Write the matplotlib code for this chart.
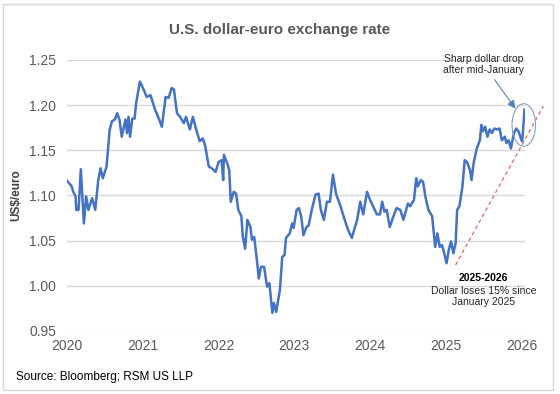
import matplotlib.pyplot as plt
from matplotlib.patches import Ellipse, Rectangle

plt.rcParams['font.family'] = ['Liberation Sans', 'DejaVu Sans']

# decimal year, US$ per euro
dates = [2020.00, 2020.06, 2020.08, 2020.11, 2020.12, 2020.15, 2020.18, 2020.22, 2020.25, 2020.28,
         2020.33, 2020.37, 2020.41, 2020.44, 2020.47, 2020.52, 2020.56, 2020.59, 2020.63, 2020.66,
         2020.69, 2020.72, 2020.77, 2020.79, 2020.81, 2020.83, 2020.86, 2020.89, 2020.91, 2020.96,
         2021.01, 2021.05, 2021.10, 2021.16, 2021.21, 2021.25, 2021.30, 2021.34, 2021.38, 2021.41,
         2021.45, 2021.49, 2021.54, 2021.57, 2021.62, 2021.66, 2021.70, 2021.75, 2021.79, 2021.82,
         2021.87, 2021.91, 2021.96, 2022.00, 2022.04, 2022.06, 2022.07, 2022.12, 2022.14, 2022.16,
         2022.20, 2022.23, 2022.26, 2022.30, 2022.32, 2022.35, 2022.38, 2022.42, 2022.44, 2022.47,
         2022.51, 2022.53, 2022.56, 2022.60, 2022.64, 2022.67, 2022.71, 2022.73, 2022.76, 2022.81,
         2022.84, 2022.87, 2022.89, 2022.94, 2022.97, 2022.99, 2023.03, 2023.06, 2023.09, 2023.12,
         2023.16, 2023.19, 2023.23, 2023.28, 2023.32, 2023.35, 2023.39, 2023.43, 2023.47, 2023.51,
         2023.55, 2023.61, 2023.65, 2023.70, 2023.73, 2023.76, 2023.79, 2023.83, 2023.87, 2023.91,
         2023.96, 2024.00, 2024.05, 2024.09, 2024.13, 2024.16, 2024.19, 2024.22, 2024.26, 2024.30,
         2024.35, 2024.40, 2024.44, 2024.50, 2024.53, 2024.58, 2024.61, 2024.63, 2024.67, 2024.70,
         2024.73, 2024.77, 2024.82, 2024.86, 2024.89, 2024.92, 2024.95, 2024.98, 2025.01, 2025.04,
         2025.07, 2025.10, 2025.13, 2025.15, 2025.18, 2025.22, 2025.25, 2025.28, 2025.32, 2025.34,
         2025.37, 2025.41, 2025.45, 2025.47, 2025.49, 2025.52, 2025.55, 2025.58, 2025.61, 2025.64,
         2025.68, 2025.71, 2025.74, 2025.78, 2025.80, 2025.83, 2025.86, 2025.90, 2025.93, 2025.96,
         2026.00, 2026.01, 2026.04]
rate = [1.116, 1.110, 1.104, 1.099, 1.084, 1.084, 1.129, 1.069, 1.099, 1.084,
        1.097, 1.084, 1.117, 1.130, 1.119, 1.132, 1.172, 1.182, 1.184, 1.191,
        1.184, 1.165, 1.184, 1.169, 1.187, 1.165, 1.185, 1.185, 1.202, 1.226,
        1.217, 1.209, 1.211, 1.195, 1.185, 1.176, 1.209, 1.208, 1.219, 1.217,
        1.191, 1.187, 1.180, 1.187, 1.173, 1.187, 1.174, 1.160, 1.163, 1.156,
        1.132, 1.130, 1.126, 1.137, 1.139, 1.117, 1.145, 1.134, 1.128, 1.093,
        1.104, 1.102, 1.084, 1.077, 1.054, 1.041, 1.073, 1.065, 1.051, 1.054,
        1.025, 1.008, 1.021, 1.021, 0.999, 1.003, 0.970, 0.981, 0.971, 0.996,
        1.032, 1.034, 1.053, 1.058, 1.069, 1.064, 1.084, 1.086, 1.077, 1.056,
        1.065, 1.067, 1.084, 1.101, 1.102, 1.084, 1.073, 1.093, 1.093, 1.123,
        1.102, 1.088, 1.077, 1.064, 1.058, 1.053, 1.062, 1.073, 1.093, 1.079,
        1.104, 1.095, 1.086, 1.079, 1.079, 1.093, 1.082, 1.084, 1.065, 1.075,
        1.086, 1.084, 1.073, 1.091, 1.088, 1.095, 1.119, 1.110, 1.117, 1.115,
        1.099, 1.084, 1.077, 1.043, 1.058, 1.043, 1.045, 1.036, 1.025, 1.040,
        1.049, 1.036, 1.047, 1.084, 1.088, 1.110, 1.139, 1.137, 1.128, 1.117,
        1.137, 1.152, 1.161, 1.178, 1.171, 1.176, 1.165, 1.173, 1.169, 1.174,
        1.173, 1.174, 1.161, 1.165, 1.158, 1.161, 1.152, 1.169, 1.174, 1.171,
        1.161, 1.160, 1.195]

years = [2020, 2021, 2022, 2023, 2024, 2025, 2026]
yticks = [0.95, 1.00, 1.05, 1.10, 1.15, 1.20, 1.25]

# trend line drawn on the chart (start / end)
trend_x = [2025.13, 2026.29]
trend_y = [1.023, 1.199]

fig = plt.figure(figsize=(5.6, 3.94), dpi=100)
fig.patches.append(Rectangle((0.006, 0.01), 0.982, 0.98, transform=fig.transFigure,
                             fill=False, edgecolor='#d9d9d9', lw=1))
ax = fig.add_axes([0.12, 0.16, 0.818, 0.688])

ax.plot(dates, rate, color='#4472c4', lw=1.8, zorder=3)
ax.plot(trend_x, trend_y, color='#e06666', lw=0.9, ls=(0, (3, 2.5)), clip_on=False, zorder=2)

ax.set_xlim(2020, 2026.05)
ax.set_ylim(0.95, 1.25)
ax.set_yticks(yticks)
ax.set_yticklabels([f'{v:.2f}' for v in yticks])
ax.set_xticks(years)
ax.set_xticklabels([str(y) for y in years])
ax.tick_params(length=0, labelsize=10, labelcolor='#595959')
ax.tick_params(axis='y', pad=8)
ax.tick_params(axis='x', pad=6)
ax.grid(axis='y', color='#d9d9d9', lw=1)
for s in ax.spines.values():
    s.set_visible(False)
ax.set_ylabel('US$/euro', fontsize=8.5, fontweight='bold', color='#404040')
ax.yaxis.set_label_coords(-0.099, 0.5)

fig.text(0.5, 0.925, 'U.S. dollar-euro exchange rate', ha='center', va='center',
         fontsize=11, fontweight='bold', color='#595959')
fig.text(0.028, 0.043, 'Source: Bloomberg; RSM US LLP', ha='left', va='center',
         fontsize=8.5, color='black')

ax.add_patch(Ellipse((2026.03, 1.178), 0.31, 0.047, fill=False, edgecolor='#7f9fcc',
                     lw=0.8, clip_on=False, zorder=4))
ax.annotate('Sharp dollar drop\nafter mid-January', xy=(2025.92, 1.196), xytext=(2025.50, 1.245),
            ha='center', va='center', fontsize=7.5, color='#262626', linespacing=1.05,
            arrowprops=dict(arrowstyle='-|>', color='#5b82b8', lw=0.8, mutation_scale=12,
                            shrinkA=2, shrinkB=0),
            annotation_clip=False)
ax.text(2025.50, 1.009, '2025-2026', ha='center', va='center', fontsize=7.5,
        fontweight='bold', color='black')
ax.text(2025.50, 0.9995, 'Dollar loses 15% since\nJanuary 2025', ha='center', va='top',
        fontsize=7.5, color='#262626', linespacing=1.1)

fig.savefig('out.png', dpi=100)
